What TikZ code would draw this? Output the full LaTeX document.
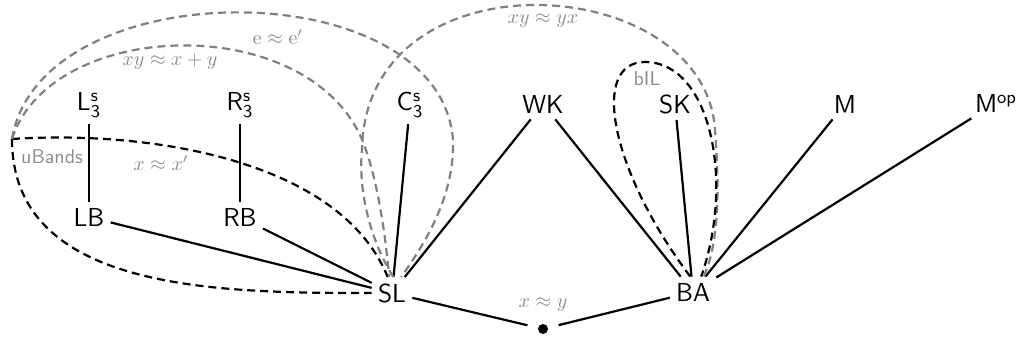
\documentclass[tikz,border=0pt]{standalone}
\usepackage{amsmath,amssymb}
\definecolor{lgray}{gray}{0.55}
\definecolor{dgray}{gray}{0.5}
\begin{document}
\begin{tikzpicture}[x=0.5pt,y=-0.5pt,
  lbl/.style={font=\fontsize{13}{15}\selectfont\sffamily, inner sep=3pt},
  glbl/.style={text=lgray, inner sep=1pt},
  edge/.style={line width=1.1pt},
  bdash/.style={line width=1.1pt, dash pattern=on 4pt off 2.5pt},
  gdash/.style={bdash, draw=dgray}]
\useasboundingbox (0,0) rectangle (1017,340);
% nodes
\node[lbl] (L3) at (89,105) {L$_{\mathsf{3}}^{\mathsf{s}}$};
\node[lbl] (R3) at (240,105) {R$_{\mathsf{3}}^{\mathsf{s}}$};
\node[lbl] (C3) at (410,105) {C$_{\mathsf{3}}^{\mathsf{s}}$};
\node[lbl] (WK) at (543,104) {WK};
\node[lbl] (SK) at (675,104) {SK};
\node[lbl] (M) at (845,104) {M};
\node[lbl] (Mop) at (996,103) {M$^{\mathsf{op}}$};
\node[lbl] (LB) at (89,217) {LB};
\node[lbl] (RB) at (240,217) {RB};
\node[lbl] (SL) at (392,293) {SL};
\node[lbl] (BA) at (693,292) {BA};
\node[circle, fill, inner sep=0pt, minimum size=5pt, outer sep=5.5pt] (bot) at (543,329) {};
% solid edges
\draw[edge] (L3) -- (LB);
\draw[edge] (R3) -- (RB);
\draw[edge] (LB) -- (SL);
\draw[edge] (RB) -- (SL);
\draw[edge] (C3) -- (SL);
\draw[edge] (WK) -- (SL);
\draw[edge] (WK) -- (BA);
\draw[edge] (SK) -- (BA);
\draw[edge] (M) -- (BA);
\draw[edge] (Mop) -- (BA);
\draw[edge] (SL) -- (bot);
\draw[edge] (bot) -- (BA);
% dashed curves
\coordinate (U) at (12,139);
\draw[bdash] (U) to[out=-90,in=180] (SL.west);
\draw[bdash] (U) .. controls (150,130) and (340,160) .. (SL.105);
\draw[gdash] (U) .. controls (40,-30) and (440,-30) .. (453,140) .. controls (455,200) and (420,250) .. (SL.60);
\draw[gdash] (U) .. controls (50,20) and (300,10) .. (360,135) .. controls (376,170) and (385,230) .. (SL.100);
\draw[gdash] (SL.85) .. controls (370,240) and (358,190) .. (362,150) .. controls (365,-50) and (705,-30) .. (715,130) .. controls (720,195) and (718,245) .. (BA.55);
\draw[bdash] (BA.100) .. controls (610,170) and (590,62) .. (645,62) .. controls (710,62) and (735,180) .. (BA.62);
% labels
\node[glbl] (ee) at (278,37) {$\mathrm{e}\approx\mathrm{e}'$};
\node[glbl] (xyxy) at (170,62) {$xy\approx x+y$};
\node[glbl] (xx) at (161,163) {$x\approx x'$};
\node[glbl, font=\sffamily] (ub) at (52,157) {uBands};
\node[glbl] (yx) at (543,21) {$xy\approx yx$};
\node[glbl, font=\sffamily] (bil) at (647,79) {bIL};
\node[glbl] (xy) at (543,305) {$x\approx y$};
\end{tikzpicture}
\end{document}
